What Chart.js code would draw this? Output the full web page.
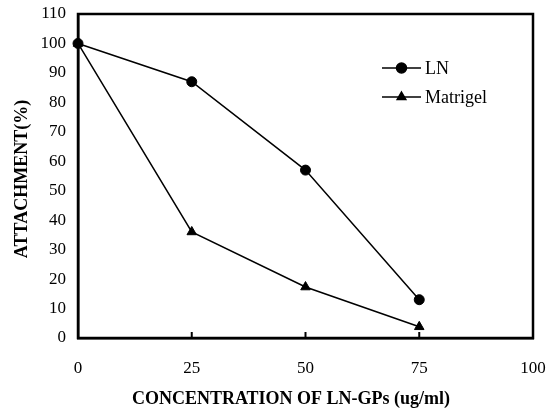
<!DOCTYPE html>
<html>
<head>
<meta charset="utf-8">
<script src="https://cdn.jsdelivr.net/npm/chart.js@4"></script>
<style>
html,body{margin:0;padding:0;background:#fff;}
#wrap{width:556px;height:411px;position:relative;}
</style>
</head>
<body>
<div id="wrap"><canvas id="c" width="556" height="411"></canvas></div>
<script>
const concentrations = [0, 25, 50, 75];
const lnValues = [100, 87, 57, 13];
const matrigelValues = [100, 36, 17.3, 3.8];
const xTicks = [0, 25, 50, 75, 100];
const yTicks = [0, 10, 20, 30, 40, 50, 60, 70, 80, 90, 100, 110];
const seriesLabels = ['LN', 'Matrigel'];
const xTitle = 'CONCENTRATION OF LN-GPs (ug/ml)';
const yTitle = 'ATTACHMENT(%)';

const SERIF = '"Liberation Serif", "Times New Roman", serif';

const framePlugin = {
  id: 'frame',
  afterDatasetsDraw(chart) {
    const {ctx, chartArea: a, scales} = chart;
    ctx.save();
    ctx.strokeStyle = '#000';
    ctx.lineWidth = 2.5;
    ctx.strokeRect(a.left, a.top, a.right - a.left, a.bottom - a.top);
    // inward x ticks
    ctx.lineWidth = 2;
    xTicks.slice(1, -1).forEach(v => {
      const x = scales.x.getPixelForValue(v);
      ctx.beginPath();
      ctx.moveTo(x, a.bottom);
      ctx.lineTo(x, a.bottom - 6);
      ctx.stroke();
    });
    // x title
    ctx.fillStyle = '#000';
    ctx.font = 'bold 18px ' + SERIF;
    ctx.textAlign = 'center';
    ctx.textBaseline = 'middle';
    ctx.fillText(xTitle, 291, 399);
    // y title
    ctx.translate(22, 179);
    ctx.rotate(-Math.PI / 2);
    ctx.fillText(yTitle, 0, 0);
    ctx.restore();
    // legend
    ctx.save();
    const metaStyles = ['circle', 'triangle'];
    chart.data.datasets.forEach((ds, i) => {
      const y = 68 + i * 29;
      ctx.strokeStyle = '#000';
      ctx.lineWidth = 1.5;
      ctx.beginPath();
      ctx.moveTo(382, y);
      ctx.lineTo(421, y);
      ctx.stroke();
      Chart.helpers.drawPoint(ctx, {pointStyle: metaStyles[i], radius: 5, borderWidth: 1}, 401.5, y);
      ctx.fillStyle = '#000';
      ctx.font = '18px ' + SERIF;
      ctx.textAlign = 'left';
      ctx.textBaseline = 'middle';
      ctx.fillText(ds.label, 425, y + 1);
    });
    ctx.restore();
  }
};

new Chart(document.getElementById('c'), {
  type: 'line',
  data: {
    datasets: [
      {
        label: seriesLabels[0],
        data: concentrations.map((x, i) => ({x, y: lnValues[i]})),
        borderColor: '#000', backgroundColor: '#000', borderWidth: 1.5,
        pointStyle: 'circle', pointRadius: 5, pointBorderWidth: 1,
        tension: 0, clip: false
      },
      {
        label: seriesLabels[1],
        data: concentrations.map((x, i) => ({x, y: matrigelValues[i]})),
        borderColor: '#000', backgroundColor: '#000', borderWidth: 1.5,
        pointStyle: 'triangle', pointRadius: 5.5, pointBorderWidth: 1,
        tension: 0, clip: false
      }
    ]
  },
  options: {
    responsive: false,
    animation: false,
    layout: {padding: {top: 14, right: 23, bottom: 0, left: 0}},
    plugins: {legend: {display: false}, tooltip: {enabled: false}},
    scales: {
      x: {
        type: 'linear', min: 0, max: 100,
        afterBuildTicks: s => { s.ticks = xTicks.map(v => ({value: v})); },
        afterFit: s => { s.height = 73; s.paddingLeft = 0; s.paddingRight = 0; },
        grid: {display: false, drawTicks: false},
        border: {display: true, color: '#000', width: 2.5},
        ticks: {color: '#000', font: {family: SERIF, size: 17}, padding: 20, maxRotation: 0, autoSkip: false}
      },
      y: {
        type: 'linear', min: 0, max: 110,
        afterBuildTicks: s => { s.ticks = yTicks.map(v => ({value: v})); },
        afterFit: s => { s.width = 78; s.paddingTop = 0; s.paddingBottom = 0; },
        grid: {display: false, drawTicks: false},
        border: {display: true, color: '#000', width: 2.5},
        ticks: {color: '#000', font: {family: SERIF, size: 17}, padding: 12, autoSkip: false}
      }
    }
  },
  plugins: [framePlugin]
});
</script>
</body>
</html>
